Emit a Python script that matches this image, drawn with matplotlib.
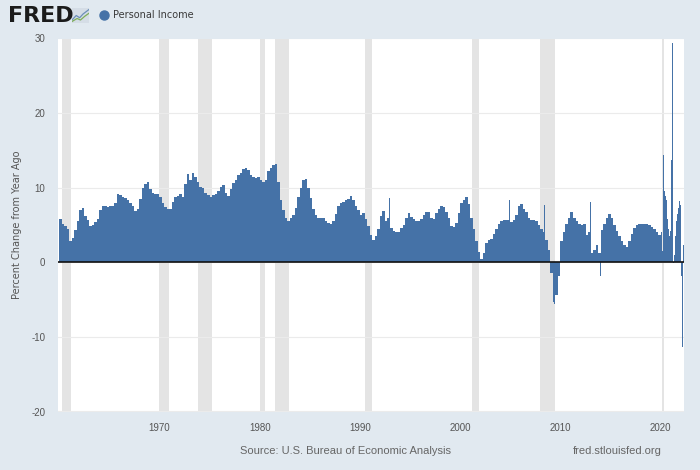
import matplotlib
matplotlib.use("Agg")
import matplotlib.pyplot as plt
import matplotlib.font_manager as fm

# ---------------- data (percent change from year ago) ----------------
quarterly_start_year = 1960
quarterly_pct = [
    5.8, 5.2, 4.8, 4.4,   2.8, 3.3, 4.3, 5.6,   7.0, 7.3, 6.2, 5.7,   4.9, 5.0, 5.4, 5.8,
    7.0, 7.5, 7.5, 7.4,   7.5, 7.6, 8.0, 9.1,   9.0, 8.8, 8.6, 8.4,   8.0, 7.5, 6.9, 7.2,
    8.5, 9.9, 10.5, 10.8, 9.8, 9.3, 9.2, 9.2,   8.8, 8.0, 7.4, 7.1,   7.2, 8.1, 8.7, 8.9,
    9.2, 8.8, 10.5, 11.8, 11.0, 12.0, 11.4, 10.8, 10.1, 9.9, 9.3, 9.0, 8.8, 9.0, 9.2, 9.6,
    10.1, 10.3, 9.3, 8.9, 9.8, 10.6, 11.0, 11.7, 12.0, 12.5, 12.6, 12.4, 11.7, 11.4, 11.3, 11.5,
    11.0, 10.8, 11.0, 12.2, 12.7, 13.0, 13.2, 10.8, 8.4, 7.0, 6.0, 5.5,  6.0, 6.3, 7.3, 8.8,
    10.0, 11.0, 11.2, 10.0, 8.6, 7.2, 6.3, 6.0,  5.9, 5.9, 5.5, 5.3,   5.2, 5.6, 6.5, 7.5,
    8.0, 8.1, 8.3, 8.5,   8.9, 8.3, 7.6, 7.0,   6.4, 6.6, 5.8, 4.8,   3.6, 3.0, 3.5, 4.5,
    6.2, 6.9, 5.6, 6.0,   4.6, 4.2, 4.0, 4.0,   4.6, 5.0, 6.0, 6.6,   6.1, 5.8, 5.5, 5.5,
    5.8, 6.4, 6.7, 6.8,   6.0, 5.8, 6.6, 7.2,   7.6, 7.4, 6.8, 5.9,   4.9, 4.7, 5.3, 6.6,
    7.9, 8.4, 8.8, 7.8,   6.0, 4.5, 2.9, 1.4,   0.4, 1.3, 2.6, 3.0,   3.1, 3.8, 4.5, 5.1,
    5.5, 5.7, 5.7, 5.7,   5.4, 5.7, 6.4, 7.5,   7.8, 7.1, 6.7, 6.0,   5.7, 5.7, 5.5, 5.0,
    4.5, 4.0, 3.0, 1.6,   -1.4, -5.3, -4.4, -1.9, 2.8, 4.0, 5.2, 6.0,  6.8, 6.0, 5.5, 5.1,
    5.0, 5.2, 3.6, 4.0,   1.3, 1.6, 2.3, 1.2,   4.3, 5.2, 5.9, 6.5,   6.0, 5.0, 4.2, 3.5,
    2.8, 2.3, 2.1, 2.8,   3.8, 4.6, 5.0, 5.2,   5.1, 5.2, 5.2, 5.0,   4.7, 4.5, 4.0, 3.7,
]

monthly_start = "2020-01"
monthly_pct = [
    4.1, 4.0, 1.5, 14.4, 9.5, 8.9, 8.4, 6.2, 5.8, 4.4, 3.5, 4.2,
    13.7, 4.4, 29.4, -0.1, 1.0, 3.5, 5.5, 6.0, 6.5, 7.3, 8.2, 7.7,
    -1.8, 4.8, -11.4, 2.3,
]

spike_dates = ["1992-12", "2004-12", "2008-05", "2009-05", "2012-12", "2013-12"]
spike_pct = [8.6, 8.3, 7.7, -5.6, 8.1, -1.9]

recession_starts = ["1960-04", "1969-12", "1973-11", "1980-01", "1981-07",
                    "1990-07", "2001-03", "2007-12", "2020-02"]
recession_ends = ["1961-02", "1970-11", "1975-03", "1980-07", "1982-11",
                  "1991-03", "2001-11", "2009-06", "2020-04"]

year_ticks = [1970, 1980, 1990, 2000, 2010, 2020]
y_ticks = [-20, -10, 0, 10, 20, 30]

series_name = "Personal Income"
y_title = "Percent Change from Year Ago"
source_text = "Source: U.S. Bureau of Economic Analysis"
site_text = "fred.stlouisfed.org"

# ---------------- helpers ----------------
def ym(s):
    y, m = s.split("-")
    return int(y) + (int(m) - 1) / 12.0

names = {f.name for f in fm.fontManager.ttflist}
narrow = "Liberation Sans Narrow" if "Liberation Sans Narrow" in names else "Liberation Sans"

BG = "#e1e9f0"
BAR = "#4572a7"
W, H = 700, 470

fig = plt.figure(figsize=(7, 4.7), dpi=100, facecolor=BG)

# plot area in pixels
px_left, px_right, px_top, px_bottom = 57.7, 684.0, 38.5, 411.5
ax = fig.add_axes([px_left / W, 1 - px_bottom / H,
                   (px_right - px_left) / W, (px_bottom - px_top) / H])
ax.set_facecolor("white")

# recession shading
for s, e in zip(recession_starts, recession_ends):
    ax.axvspan(ym(s), ym(e) + 1 / 12.0, color="#e4e4e4", lw=0, zorder=0)

# grid lines
for yv in y_ticks:
    ax.axhline(yv, color="#ebebeb", lw=0.8, zorder=0.5)

# quarterly bars
qx = [quarterly_start_year + i * 0.25 for i in range(len(quarterly_pct))]
ax.bar(qx, quarterly_pct, width=0.25, align="edge", color=BAR, lw=0, zorder=2)

# monthly bars 2020+
m0 = ym(monthly_start)
mx = [m0 + i / 12.0 for i in range(len(monthly_pct))]
ax.bar(mx, monthly_pct, width=1 / 12.0, align="edge", color=BAR, lw=0, zorder=2)

# single-month spikes
ax.bar([ym(d) for d in spike_dates], spike_pct, width=1 / 12.0, align="edge",
       color=BAR, lw=0, zorder=2)

# zero line
ax.axhline(0, color="#111111", lw=1.2, zorder=3)

ax.set_xlim(1959.86, 2022.32)
ax.set_ylim(-20, 30)
for sp in ax.spines.values():
    sp.set_visible(False)
ax.set_xticks(year_ticks)
ax.set_xticklabels([str(y) for y in year_ticks])
ax.set_yticks(y_ticks)
ax.set_yticklabels([str(y) for y in y_ticks])
ax.tick_params(axis="both", length=0, labelsize=7, labelcolor="#555555")
ax.tick_params(axis="x", pad=8)
ax.tick_params(axis="y", pad=9)
for lab in ax.get_xticklabels() + ax.get_yticklabels():
    lab.set_fontfamily(narrow)

fig.text(17 / W, 1 - 225 / H, y_title, rotation=90, ha="center", va="center",
         fontsize=7, color="#555555", family="DejaVu Sans")

# header: FRED logo and legend
fig.text(8 / W, 1 - 16 / H, "FRED", ha="left", va="center", fontsize=16,
         fontweight="heavy", color="#1b1b1b", family="DejaVu Sans")
icon = fig.add_axes([72 / W, 1 - 23 / H, 17 / W, 15 / H])
icon.set_facecolor("#d5dde6")
icon.plot([0, 0.25, 0.45, 0.65, 1.0], [0.2, 0.5, 0.35, 0.6, 0.9], color="#6c8fb8", lw=0.9)
icon.plot([0, 0.3, 0.5, 0.75, 1.0], [0.1, 0.3, 0.2, 0.45, 0.65], color="#7fae5a", lw=0.9)
icon.set_xlim(0, 1)
icon.set_ylim(0, 1)
icon.set_xticks([])
icon.set_yticks([])
for sp in icon.spines.values():
    sp.set_visible(False)

fig.add_artist(plt.Line2D([104 / W], [1 - 15 / H], marker="o", markersize=6.5,
                          color=BAR, transform=fig.transFigure, lw=0))
fig.text(113 / W, 1 - 15 / H, series_name, ha="left", va="center", fontsize=7,
         color="#3a3a3a", family="DejaVu Sans")

# footer
fig.text(345 / W, 1 - 451 / H, source_text, ha="center", va="center",
         fontsize=8, color="#666666", family=narrow)
fig.text(617 / W, 1 - 451 / H, site_text, ha="center", va="center",
         fontsize=8, color="#666666", family=narrow)

fig.savefig("out.png", dpi=100, facecolor=BG)
